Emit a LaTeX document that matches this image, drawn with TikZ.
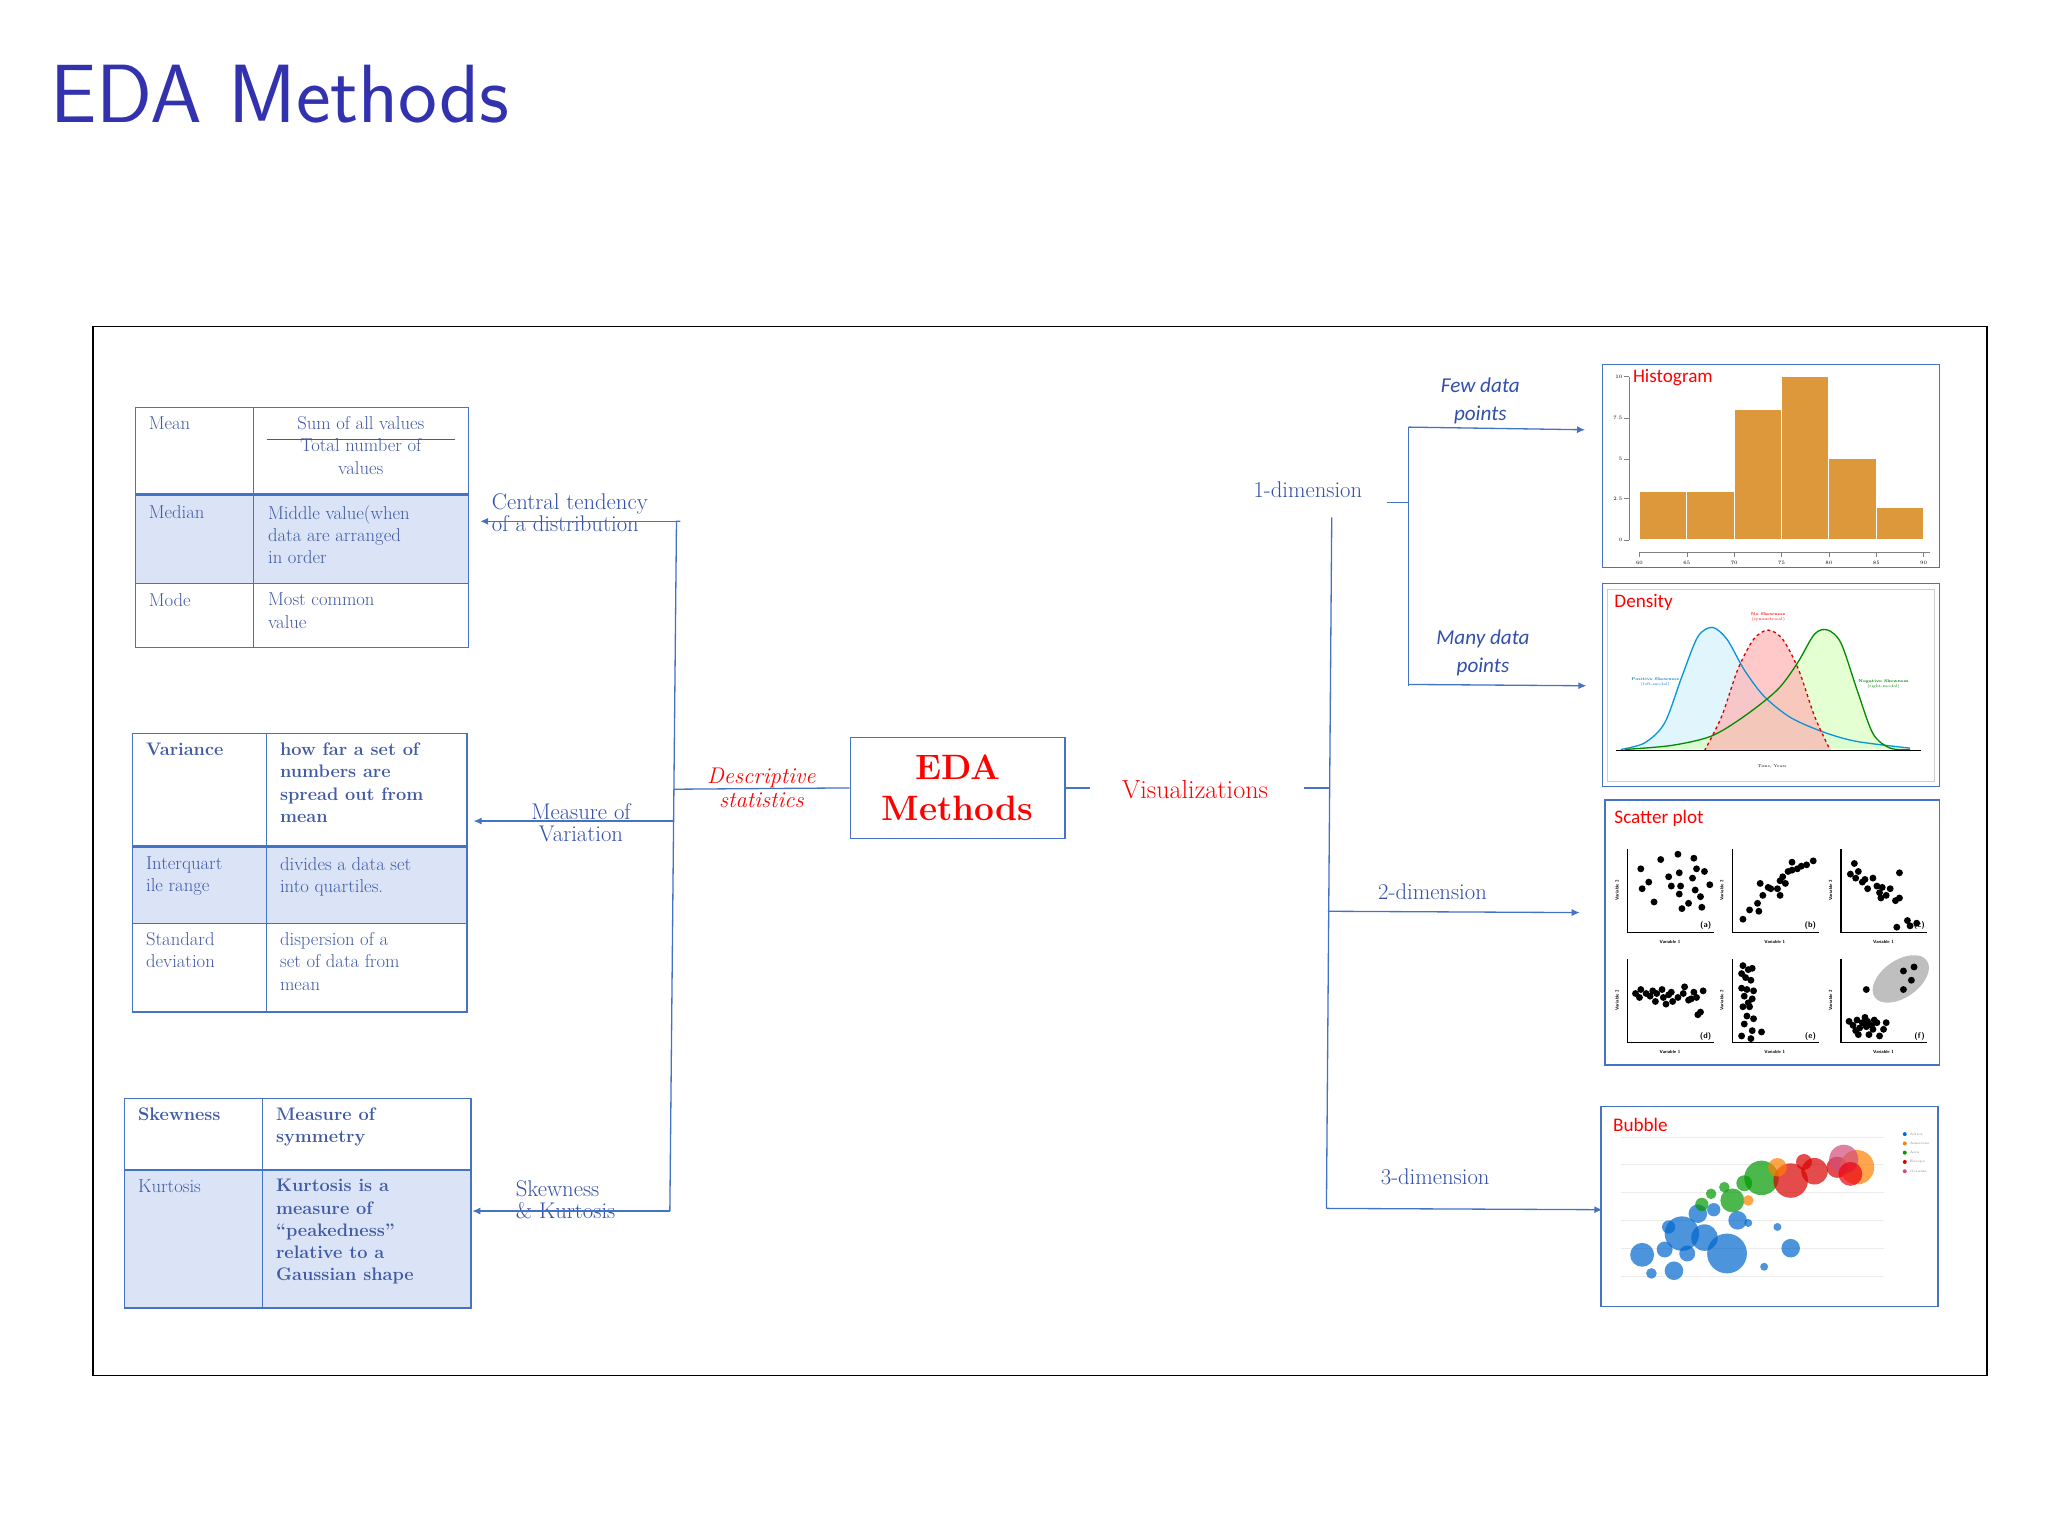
\documentclass[tikz,border=0pt]{standalone}
\usepackage{fontspec}
\usetikzlibrary{arrows.meta}
\newfontfamily\carlito{Carlito}
\begin{document}
\begin{tikzpicture}[x=1.316pt,y=-1.316pt,
  tb/.style={draw=bl, line width=1.4pt},
  tt/.style={anchor=north west, align=left, text=tc, font=\fontsize{18.5}{24}\selectfont, inner sep=0pt},
  ttb/.style={tt, font=\bfseries\fontsize{18}{24}\selectfont},
  lab/.style={text=lbc, font=\fontsize{22.5}{28}\selectfont, align=center, inner sep=1pt},
  ln/.style={draw=bl, line width=1.3pt},
  arr/.style={draw=bl, line width=1.3pt, -{Latex[length=8pt,width=7pt]}},
  ctitle/.style={anchor=north west, text=red, font=\carlito\fontsize{19}{22}\selectfont, inner sep=0pt},
  dot/.style={fill=black}]
\definecolor{bl}{RGB}{68,114,196}
\definecolor{tc}{RGB}{65,90,165}
\definecolor{lbc}{RGB}{50,80,170}
\definecolor{sh}{RGB}{218,228,246}
\definecolor{ttl}{RGB}{50,50,175}
\definecolor{org}{RGB}{222,152,60}
\colorlet{bub}{blue!50!cyan!80!black}
\useasboundingbox (0,0) rectangle (1544,1158);
\node[anchor=base west, text=ttl, font=\sffamily\fontsize{82}{90}\selectfont, inner sep=0pt] (title) at (38,92) {EDA Methods};
\draw[line width=1.4pt] (70,246) rectangle (1498,1037);
% table 1
\fill[sh] (102,373) rectangle (353,440);
\draw[tb] (102,307) rectangle (353,488);
\draw[tb] (191,307) -- (191,488);
\draw[draw=bl,line width=2.8pt] (102,373) -- (353,373);
\draw[tb] (102,440) -- (353,440);
\node[tt] (m1) at (112,314) {Mean};
\node[tt,anchor=north, align=center] (m2) at (272,314) {Sum of all values\\[-2pt]Total number of\\[-2pt]values};
\draw[draw=tc, line width=0.9pt] (201,331) -- (343,331);
\node[tt] (md1) at (112,381) {Median};
\node[tt] (md2) at (202,381) {Middle value(when\\[-2pt]data are arranged\\[-2pt]in order};
\node[tt] (mo1) at (112,447) {Mode};
\node[tt] (mo2) at (202,447) {Most common\\[-2pt]value};
% table 2
\fill[sh] (100,638) rectangle (352,696);
\draw[tb] (100,553) rectangle (352,763);
\draw[tb] (201,553) -- (201,763);
\draw[draw=bl,line width=2.8pt] (100,638) -- (352,638);
\draw[tb] (100,696) -- (352,696);
\node[ttb] (v1) at (110,560) {Variance};
\node[ttb] (v2) at (211,560) {how far a set of\\[-2pt]numbers are\\[-2pt]spread out from\\[-2pt]mean};
\node[tt] (i1) at (110,646) {Interquart\\[-2pt]ile range};
\node[tt] (i2) at (211,646) {divides a data set\\[-2pt]into quartiles.};
\node[tt] (s1) at (110,703) {Standard\\[-2pt]deviation};
\node[tt] (s2) at (211,703) {dispersion of a\\[-2pt]set of data from\\[-2pt]mean};
% table 3
\fill[sh] (94,882) rectangle (355,986);
\draw[tb] (94,828) rectangle (355,986);
\draw[tb] (198,828) -- (198,986);
\draw[draw=bl,line width=2.8pt] (94,882) -- (355,882);
\node[ttb] (k1) at (104,835) {Skewness};
\node[ttb] (k2) at (208,835) {Measure of\\[-2pt]symmetry};
\node[tt] (ku1) at (104,889) {Kurtosis};
\node[ttb] (ku2) at (208,889) {Kurtosis is a\\[-2pt]measure of\\[-2pt]``peakedness''\\[-2pt]relative to a\\[-2pt]Gaussian shape};
% left labels and connectors
\node[lab, align=left, anchor=north west] (ct) at (370,371) {Central tendency\\[-6pt]of a distribution};
\node[lab] (mv) at (438,620) {Measure of\\[-6pt]Variation};
\node[lab, align=left, anchor=north west] (sk) at (388,889) {Skewness\\[-6pt]\& Kurtosis};
\coordinate (t1) at (510,393); \coordinate (t2) at (507,619); \coordinate (t3) at (505,913);
\draw[ln] (513,393) -- (t1) -- (t3);
\draw[arr] (t1) -- (362,393);
\draw[arr] (t2) -- (357,619);
\draw[arr] (t3) -- (356,913);
\node[lab, text=red, font=\itshape\fontsize{22.5}{26}\selectfont] (ds) at (574,594) {Descriptive\\[-2pt]statistics};
\node[draw=bl, line width=1.4pt, minimum width=162*1.316pt, minimum height=76*1.316pt, text=red, font=\bfseries\fontsize{35}{41}\selectfont, align=center] (eda) at (722,594) {EDA\\Methods};
\draw[ln] (508,595) -- (eda.west);
\node[lab, text=red, font=\fontsize{26}{30}\selectfont] (vis) at (901,595) {Visualizations};
\draw[ln] (eda.east) -- (822,594);
\draw[ln] (983,594) -- (1002,594);
% right tree
\coordinate (r1) at (1004,390); \coordinate (r2) at (1001,687); \coordinate (r3) at (1000,911);
\draw[ln] (r1) -- (r3);
\draw[arr] (r2) -- (1191,688);
\draw[arr] (r3) -- (1208,912);
\node[lab] (d1) at (986,369) {1-dimension};
\node[lab] (d2) at (1080,672) {2-dimension};
\node[lab] (d3) at (1082,887) {3-dimension};
\coordinate (b1) at (1062,379);
\draw[ln] (1046,379) -- (b1);
\draw[ln] (1062,322) -- (1062,517);
\draw[arr] (1062,322) -- (1195,324);
\draw[arr] (1062,516) -- (1196,517);
\node[text=lbc, font=\carlito\itshape\fontsize{21}{28}\selectfont, align=center] (few) at (1116,302) {Few data\\points};
\node[text=lbc, font=\carlito\itshape\fontsize{21}{28}\selectfont, align=center] (many) at (1118,492) {Many data\\points};
% histogram
\draw[draw=bl, line width=1.4pt] (1208,275) rectangle (1462,428);
\node[ctitle] (ht) at (1231,278) {Histogram};
\draw[gray, line width=0.6pt] (1228,284) -- (1228,407);
\foreach \v/\yy in {0/407,2.5/376,5/346,7.5/315,10/284}{\draw[gray,line width=0.6pt] (1224,\yy) -- (1228,\yy); \node[anchor=east, font=\fontsize{5}{6}\selectfont, inner sep=1pt] at (1224,\yy) {\v};}
\foreach \i/\h in {0/3,1/3,2/8,3/10,4/5,5/2}{\fill[org,draw=white,line width=0.8pt] (1236+35.7*\i,407) rectangle (1236+35.7*\i+35.7,407-12.3*\h);}
\draw[gray,line width=0.6pt] (1236,416) -- (1455,416);
\foreach \i/\v in {0/60,1/65,2/70,3/75,4/80,5/85,6/90}{\draw[gray,line width=0.6pt] (1236+35.7*\i,416) -- (1236+35.7*\i,420); \node[font=\fontsize{5}{6}\selectfont, inner sep=1pt] at (1236+35.7*\i,424) {\v};}
% density
\draw[draw=bl, line width=1.4pt] (1208,440) rectangle (1462,593);
\draw[draw=gray!40] (1212,444) rectangle (1458,589);
\node[ctitle] (dt) at (1217,448) {Density};
\fill[cyan!15, opacity=0.8] plot[smooth] coordinates {(1222,565) (1240,560) (1255,545) (1268,510) (1280,480) (1291,473) (1302,482) (1315,505) (1330,525) (1350,541) (1375,552) (1400,559) (1440,564)};
\fill[green!60!yellow!25, opacity=0.7] plot[smooth] coordinates {(1225,565) (1260,562) (1290,555) (1315,540) (1340,520) (1355,500) (1368,478) (1378,475) (1388,485) (1400,520) (1412,553) (1425,564) (1440,565)};
\fill[red!30, opacity=0.7] plot[smooth] coordinates {(1285,566) (1298,540) (1310,505) (1322,482) (1333,475) (1344,482) (1356,505) (1368,540) (1380,566)};
\draw[cyan!80!blue, line width=1.3pt] plot[smooth] coordinates {(1222,565) (1240,560) (1255,545) (1268,510) (1280,480) (1291,473) (1302,482) (1315,505) (1330,525) (1350,541) (1375,552) (1400,559) (1440,564)};
\draw[green!55!black, line width=1.3pt] plot[smooth] coordinates {(1225,565) (1260,562) (1290,555) (1315,540) (1340,520) (1355,500) (1368,478) (1378,475) (1388,485) (1400,520) (1412,553) (1425,564) (1440,565)};
\draw[red!85!black, line width=1.3pt, dashed] plot[smooth] coordinates {(1285,566) (1298,540) (1310,505) (1322,482) (1333,475) (1344,482) (1356,505) (1368,540) (1380,566)};
\draw[line width=1.2pt] (1218,566) -- (1448,566);
\node[font=\fontsize{4}{5}\selectfont, text=red, align=center] at (1333,465) {\textbf{No Skewness}\\(symmetrical)};
\node[font=\fontsize{4}{5}\selectfont, text=cyan!60!blue, align=center] at (1248,514) {\textbf{Positive Skewness}\\(left-modal)};
\node[font=\fontsize{4}{5}\selectfont, text=green!50!black, align=center] at (1420,516) {\textbf{Negative Skewness}\\(right-modal)};
\node[font=\fontsize{4}{5}\selectfont] at (1336,578) {Time, Years};
% scatter
\draw[draw=bl, line width=1.4pt] (1210,603) rectangle (1462,803);
\node[ctitle] (st) at (1217,611) {Scatter plot};
\foreach \ox/\oy/\lb in {1227/703/a,1306/703/b,1388/703/c,1227/786/d,1306/786/e,1388/786/f}{
  \begin{scope}[shift={(\ox,\oy)}]
  \draw[line width=1.5pt] (0,-63) -- (0,0) -- (65,0);
  \node[font=\sffamily\bfseries\fontsize{4.5}{5}\selectfont] at (32,7) {Variable 1};
  \node[font=\sffamily\bfseries\fontsize{4.5}{5}\selectfont, rotate=90] at (-8,-32) {Variable 2};
  \node[font=\sffamily\bfseries\fontsize{8}{9}\selectfont, anchor=south east, inner sep=1pt] at (64,-1) {(\lb)};
  \end{scope}}
\begin{scope}[shift={(1227,703)}]
\foreach \a/\b in {10/48,16/38,11/33,25/55,20/23,31/42,33/35,38/59,39/45,39/29,40/35,41/18,46/22,49/41,51/32,55/27,56/19,52/48,58/46,50/56,62/36} \fill[dot] (\a,-\b) circle (2.6);
\end{scope}
\begin{scope}[shift={(1306,703)}]
\foreach \a/\b in {8/10,13/17,19/22,20/16,21/37,23/28,27/34,29/33,34/33,36/39,36/28,38/42,40/37,42/46,45/47,45/53,49/48,52/50,56/51,61/54} \fill[dot] (\a,-\b) circle (2.6);
\end{scope}
\begin{scope}[shift={(1388,703)}]
\foreach \a/\b in {7/44,10/52,11/41,13/46,16/38,18/40,20/33,24/41,27/35,29/30,30/26,31/34,34/28,37/33,42/4,44/45,41/24,50/9,52/5,57/7,44/26} \fill[dot] (\a,-\b) circle (2.6);
\end{scope}
\begin{scope}[shift={(1227,786)}]
\foreach \a/\b in {6/37,9/34,10/40,14/37,17/35,19/39,21/31,22/37,26/40,27/34,29/29,31/36,33/38,34/31,38/34,42/37,43/42,46/32,48/33,50/38,52/34,53/21,55/23,57/39} \fill[dot] (\a,-\b) circle (2.6);
\end{scope}
\begin{scope}[shift={(1306,786)}]
\foreach \a/\b in {8/58,7/52,12/55,15/56,10/49,14/47,7/41,11/40,16/39,9/35,15/33,8/27,13/27,11/20,16/18,9/14,15/9,7/5,14/3,22/8,12/30} \fill[dot] (\a,-\b) circle (2.6);
\end{scope}
\begin{scope}[shift={(1388,786)}]
\fill[gray!50, rotate around={35:(45,-48)}] (45,-48) ellipse (24 and 14);
\foreach \a/\b in {19/40,47/54,55/57,53/47,47/40} \fill[dot] (\a,-\b) circle (2.6);
\foreach \a/\b in {6/16,9/13,12/17,11/9,14/11,16/15,18/19,19/12,21/6,20/16,23/13,24/10,25/17,27/15,29/5,32/10,34/15,13/6} \fill[dot] (\a,-\b) circle (2.6);
\end{scope}
% bubble
\draw[draw=bl, line width=1.4pt] (1207,834) rectangle (1461,985);
\node[ctitle] (bt) at (1216,843) {Bubble};
\foreach \yy in {857,878,899,920,941,962} \draw[gray!15] (1222,\yy) -- (1420,\yy);
\foreach \a/\b/\r/\c in {
1238/946/9/bub, 1302/945/15/bub, 1268/930/13/bub, 1285/933/10/bub, 1255/942/6/bub, 1262/958/7/bub,
1280/915/7/bub, 1310/920/7/bub, 1350/941/7/bub, 1330/955/3/bub, 1245/960/4/bub, 1292/912/5/bub,
1258/925/5/bub, 1272/945/6/bub, 1318/922/3/bub, 1340/925/3/bub,
1283/908/5/green!60!black, 1306/905/9/green!60!black, 1328/888/13/green!60!black, 1300/895/4/green!60!black,
1315/892/6/green!60!black, 1290/900/4/green!60!black,
1318/905/4/orange, 1350/890/13/red!85!black, 1368/883/10/red!85!black, 1385/880/8/red!85!black,
1400/880/13/orange, 1390/874/11/purple!70, 1340/880/7/orange, 1360/876/6/red!85!black, 1395/885/9/red!70!purple}
  \fill[\c, opacity=0.7] (\a,\b) circle (\r);
\foreach \yy/\c/\t in {855/blue!60!cyan/Africa,862/orange/Americas,869/green!60!black/Asia,876/red!85!black/Europe,883/purple!70/Oceania}{\fill[\c] (1436,\yy) circle (1.5); \node[anchor=west, font=\fontsize{3.5}{4}\selectfont, text=gray, inner sep=1pt] at (1439,\yy) {\t};}
\end{tikzpicture}
\end{document}
